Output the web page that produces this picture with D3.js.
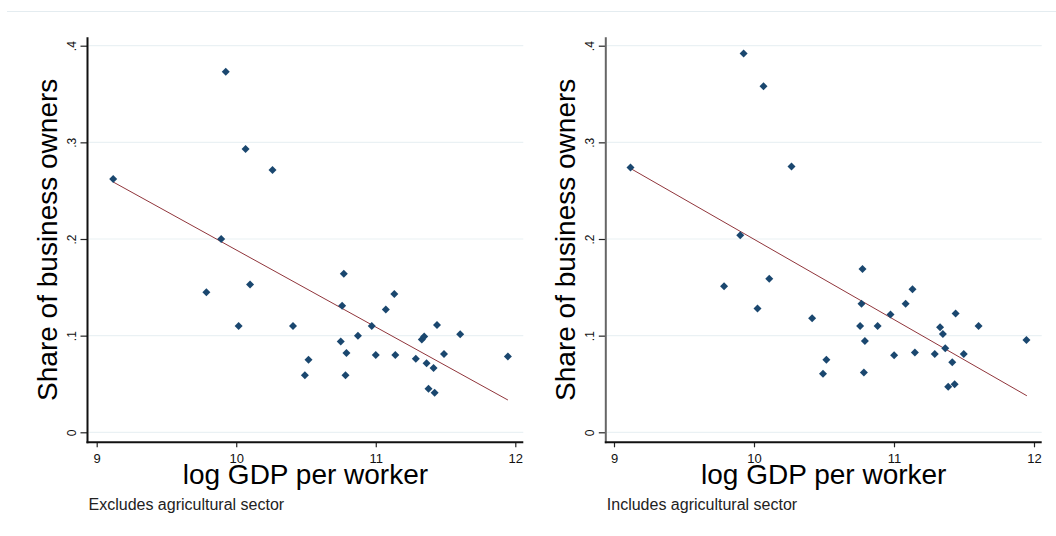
<!DOCTYPE html>
<html>
<head>
<meta charset="utf-8">
<script src="https://cdn.jsdelivr.net/npm/d3@7"></script>
<style>
  html, body { margin: 0; padding: 0; background: #ffffff; }
  svg { display: block; font-family: "Liberation Sans", Arial, sans-serif; }
</style>
</head>
<body>
<svg id="chart" width="1056" height="536"></svg>
<script>
// ---- data ----
const xTicks = [9, 10, 11, 12];
const yTicks = [0, 0.1, 0.2, 0.3, 0.4];
const yTickLabels = ["0", ".1", ".2", ".3", ".4"];
const xTitle = "log GDP per worker";
const yTitle = "Share of business owners";

// Left panel: excludes agricultural sector
const leftNote = "Excludes agricultural sector";
const leftX = [9.118, 9.925, 10.067, 10.260, 9.892, 9.786, 10.099, 10.017, 10.407, 10.492, 10.518,
               10.771, 10.759, 10.749, 10.790, 10.783, 10.872, 10.971, 11.000, 11.072, 11.133, 11.140,
               11.287, 11.330, 11.347, 11.364, 11.378, 11.414, 11.422, 11.439, 11.489, 11.605, 11.947];
const leftY = [0.262, 0.373, 0.293, 0.2715, 0.200, 0.145, 0.153, 0.110, 0.110, 0.059, 0.075,
               0.164, 0.131, 0.094, 0.082, 0.059, 0.100, 0.110, 0.080, 0.127, 0.143, 0.080,
               0.076, 0.096, 0.099, 0.0715, 0.045, 0.0665, 0.041, 0.111, 0.081, 0.1015, 0.0785];
const leftFitX = [9.118, 11.947];
const leftFitY = [0.259, 0.0334];

// Right panel: includes agricultural sector
const rightNote = "Includes agricultural sector";
const rightX = [9.118, 9.926, 10.068, 10.268, 9.902, 9.786, 10.109, 10.025, 10.415, 10.493, 10.517,
                10.775, 10.768, 10.758, 10.792, 10.785, 10.883, 10.975, 11.001, 11.083, 11.132, 11.149,
                11.291, 11.329, 11.349, 11.366, 11.387, 11.416, 11.433, 11.440, 11.498, 11.604, 11.946];
const rightY = [0.274, 0.392, 0.358, 0.275, 0.204, 0.151, 0.159, 0.128, 0.118, 0.0605, 0.075,
                0.169, 0.133, 0.110, 0.0945, 0.062, 0.110, 0.122, 0.0797, 0.133, 0.148, 0.0825,
                0.081, 0.1087, 0.1016, 0.087, 0.047, 0.0726, 0.0496, 0.123, 0.081, 0.110, 0.0954];
const rightFitX = [9.118, 11.949];
const rightFitY = [0.273, 0.0378];

// ---- layout ----
const svg = d3.select("#chart");
const markerColor = "#1a476f";
const fitColor = "#90353b";
const gridColor = "#eaf1f4";

// faint outer frame line at top
svg.append("line")
  .attr("x1", 7).attr("x2", 1056).attr("y1", 11.5).attr("y2", 11.5)
  .attr("stroke", "#e4ecf0").attr("stroke-width", 1);

const panels = [
  { xs: leftX, ys: leftY, fx: leftFitX, fy: leftFitY, note: leftNote,
    xr: [96.7, 515.3], axisX: 87.5, xEnd: 523.3, yAxisColor: "#111" },
  { xs: rightX, ys: rightY, fx: rightFitX, fy: rightFitY, note: rightNote,
    xr: [614, 1034], axisX: 605.8, xEnd: 1041.7, yAxisColor: "#666" }
];

const yTop = 37.3, yBase = 442.3;

panels.forEach(p => {
  const x = d3.scaleLinear().domain([9, 12]).range(p.xr);
  const y = d3.scaleLinear().domain([0, 0.4]).range([432.3, 45.7]);
  const g = svg.append("g");

  // gridlines
  g.append("g").selectAll("line").data(yTicks).join("line")
    .attr("x1", p.axisX + 1).attr("x2", p.xEnd)
    .attr("y1", d => y(d)).attr("y2", d => y(d))
    .attr("stroke", gridColor).attr("stroke-width", 1.2);

  // fitted line
  const fitPts = p.fx.map((v, i) => [v, p.fy[i]]);
  g.append("path")
    .datum(fitPts)
    .attr("d", d3.line().x(d => x(d[0])).y(d => y(d[1])))
    .attr("fill", "none").attr("stroke", fitColor).attr("stroke-width", 1);

  // points (diamonds)
  const pts = p.xs.map((v, i) => [v, p.ys[i]]);
  g.append("g").selectAll("path").data(pts).join("path")
    .attr("transform", d => `translate(${x(d[0])},${y(d[1])})`)
    .attr("d", "M0,-4L4,0L0,4L-4,0Z")
    .attr("fill", markerColor);

  // y axis ticks + labels
  const yAxis = d3.axisLeft(y).tickValues(yTicks).tickSize(7)
    .tickFormat((d, i) => yTickLabels[i]);
  const ya = g.append("g").attr("transform", `translate(${p.axisX},0)`).call(yAxis);
  ya.select(".domain").remove();
  ya.selectAll(".tick line").attr("stroke", "#222").attr("stroke-width", 1.2);
  ya.selectAll(".tick text")
    .attr("x", null).attr("dy", null)
    .attr("text-anchor", "middle")
    .attr("transform", "translate(-11.5,0) rotate(-90)")
    .attr("font-size", 12).attr("fill", "#111")
    .attr("font-family", "Liberation Sans, Arial, sans-serif");

  // x axis ticks + labels
  const xAxis = d3.axisBottom(x).tickValues(xTicks).tickSize(5).tickPadding(6.5)
    .tickFormat(d3.format("d"));
  const xa = g.append("g").attr("transform", `translate(0,${yBase})`).call(xAxis);
  xa.select(".domain").remove();
  xa.selectAll(".tick line").attr("stroke", "#222").attr("stroke-width", 1.2);
  xa.selectAll(".tick text")
    .attr("font-size", 13).attr("fill", "#111")
    .attr("font-family", "Liberation Sans, Arial, sans-serif");

  // axis lines
  g.append("line")
    .attr("x1", p.axisX).attr("x2", p.axisX).attr("y1", yTop).attr("y2", yBase + 1)
    .attr("stroke", p.yAxisColor).attr("stroke-width", 2);
  g.append("line")
    .attr("x1", p.axisX - 1).attr("x2", p.xEnd).attr("y1", yBase).attr("y2", yBase)
    .attr("stroke", "#111").attr("stroke-width", 2);

  // axis titles
  const cx = (p.axisX + p.xEnd) / 2;
  g.append("text")
    .attr("x", cx).attr("y", 484)
    .attr("text-anchor", "middle")
    .attr("font-size", 28).attr("fill", "#000")
    .text(xTitle);
  g.append("text")
    .attr("transform", `translate(${p.axisX - 30.5},${(yTop + yBase) / 2}) rotate(-90)`)
    .attr("text-anchor", "middle")
    .attr("font-size", 28).attr("fill", "#000")
    .text(yTitle);

  // note
  g.append("text")
    .attr("x", p.axisX + 1).attr("y", 510)
    .attr("font-size", 16).attr("fill", "#222")
    .text(p.note);
});
</script>
</body>
</html>
